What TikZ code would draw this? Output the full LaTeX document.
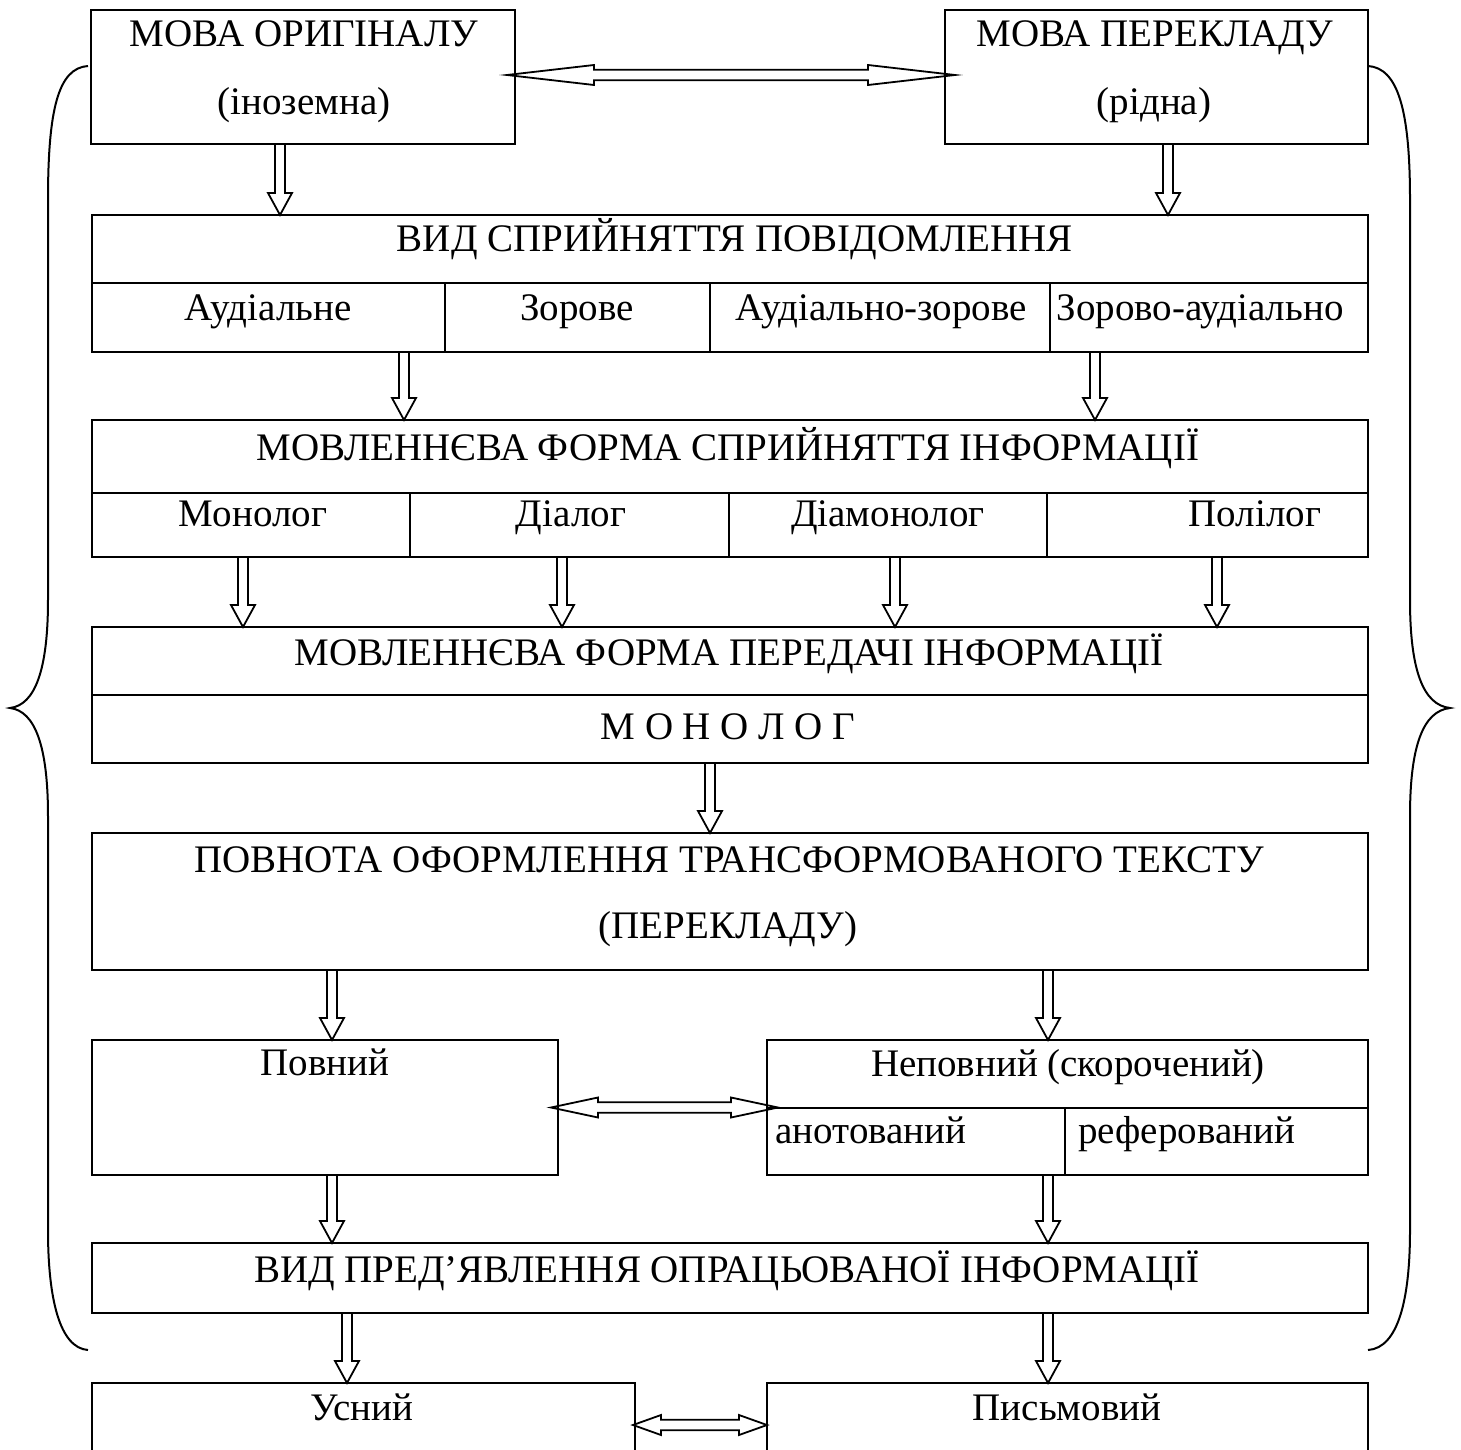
\documentclass[tikz,border=0pt]{standalone}
\usepackage{fontspec}
\setmainfont{Liberation Serif}
\usepackage{tikz}
\usetikzlibrary{calc}

\begin{document}
\begin{tikzpicture}[
    x=0.5pt, y=-0.5pt,
    box/.style={draw, line width=1.4pt, inner sep=0pt, outer sep=0pt},
    cell/.style={draw, line width=1pt, inner sep=0pt, outer sep=0pt},
    lbl/.style={anchor=base, inner sep=0pt, font=\fontsize{19.5}{23}\selectfont},
    brace/.style={line width=1pt},
    downarr/.style={draw, line width=0.9pt, to path={
        let \p1=(\tikztostart), \p2=(\tikztotarget) in
        (\x1-2.5pt,\y1) -- (\x1-2.5pt,\y2+11pt) -- (\x1-6pt,\y2+11pt) -- (\x1,\y2)
        -- (\x1+6pt,\y2+11pt) -- (\x1+2.5pt,\y2+11pt) -- (\x1+2.5pt,\y1)}},
    dblarr/.style={draw, line width=0.9pt, to path={
        let \p1=(\tikztostart), \p2=(\tikztotarget) in
        (\x1,\y1) -- (\x1+#1,\y1+5pt) -- (\x1+#1,\y1+2.6pt) -- (\x2-#1,\y1+2.6pt)
        -- (\x2-#1,\y1+5pt) -- (\x2,\y1) -- (\x2-#1,\y1-5pt) -- (\x2-#1,\y1-2.6pt)
        -- (\x1+#1,\y1-2.6pt) -- (\x1+#1,\y1-5pt) -- cycle}}
]
\useasboundingbox (0,0) rectangle (1461,1450);

\node[box, minimum width=212pt, minimum height=67pt] (b1) at (303,77) {};
\node[box, minimum width=211.5pt, minimum height=67pt] (b2) at (1156.5,77) {};
\node[lbl] (t1a) at (304,47) {МОВА ОРИГІНАЛУ};
\node[lbl] (t1b) at (304,115) {(іноземна)};
\node[lbl] (t2a) at (1155,47) {МОВА ПЕРЕКЛАДУ};
\node[lbl] (t2b) at (1154,115) {(рідна)};

\node[cell, minimum width=638pt, minimum height=34pt] (h3) at (730,249) {};
\node[cell, minimum width=176.5pt, minimum height=34.5pt] (c31) at (268.5,317.5) {};
\node[cell, minimum width=132.5pt, minimum height=34.5pt] (c32) at (577.5,317.5) {};
\node[cell, minimum width=170pt, minimum height=34.5pt] (c33) at (880,317.5) {};
\node[cell, minimum width=159pt, minimum height=34.5pt] (c34) at (1209,317.5) {};
\draw[line width=1.4pt] (h3.north west) rectangle (c34.south east);
\node[lbl] (t3) at (735,251) {ВИД СПРИЙНЯТТЯ ПОВІДОМЛЕННЯ};
\node[lbl] (t31) at (268,320) {Аудіальне};
\node[lbl] (t32) at (577,320) {Зорове};
\node[lbl] (t33) at (881,320) {Аудіально-зорове};
\node[lbl] (t34) at (1200,320) {Зорово-аудіально};

\node[cell, minimum width=638pt, minimum height=36.5pt] (h4) at (730,456.5) {};
\node[cell, minimum width=159pt, minimum height=32pt] (c41) at (251,525) {};
\node[cell, minimum width=159.5pt, minimum height=32pt] (c42) at (569.5,525) {};
\node[cell, minimum width=159pt, minimum height=32pt] (c43) at (888,525) {};
\node[cell, minimum width=160.5pt, minimum height=32pt] (c44) at (1207.5,525) {};
\draw[line width=1.4pt] (h4.north west) rectangle (c44.south east);
\node[lbl] (t4) at (728,460) {МОВЛЕННЄВА ФОРМА СПРИЙНЯТТЯ ІНФОРМАЦІЇ};
\node[lbl] (t41) at (253,526) {Монолог};
\node[lbl] (t42) at (571,526) {Діалог};
\node[lbl] (t43) at (888,526) {Діамонолог};
\node[lbl] (t44) at (1255,526) {Полілог};

\node[box, minimum width=638pt, minimum height=34pt] (h5) at (730,661) {};
\node[box, minimum width=638pt, minimum height=34pt] (c5) at (730,729) {};
\node[lbl] (t5) at (729,665) {МОВЛЕННЄВА ФОРМА ПЕРЕДАЧІ ІНФОРМАЦІЇ};
\node[lbl] (t5b) at (728,739) {М О Н О Л О Г};

\node[box, minimum width=638pt, minimum height=68.5pt] (b6) at (730,901.5) {};
\node[lbl] (t6a) at (729,872) {ПОВНОТА ОФОРМЛЕННЯ ТРАНСФОРМОВАНОГО ТЕКСТУ};
\node[lbl] (t6b) at (728,938) {(ПЕРЕКЛАДУ)};

\node[box, minimum width=233pt, minimum height=67.5pt] (b7) at (325,1107.5) {};
\node[lbl] (t7) at (325,1075) {Повний};
\node[cell, minimum width=300.5pt, minimum height=34pt] (h8) at (1067.5,1074) {};
\node[cell, minimum width=149pt, minimum height=33.5pt] (c81) at (916,1141.5) {};
\node[cell, minimum width=151.5pt, minimum height=33.5pt] (c82) at (1216.5,1141.5) {};
\draw[line width=1.4pt] (h8.north west) rectangle (c82.south east);
\node[lbl] (t8) at (1068,1076) {Неповний (скорочений)};
\node[lbl, anchor=base west] (t81) at (775,1143) {анотований};
\node[lbl, anchor=base west] (t82) at (1078,1143) {реферований};

\node[box, minimum width=638pt, minimum height=35pt] (b9) at (730,1278) {};
\node[lbl] (t9) at (727,1282) {ВИД ПРЕД’ЯВЛЕННЯ ОПРАЦЬОВАНОЇ ІНФОРМАЦІЇ};

\node[box, minimum width=271.5pt, minimum height=42pt] (b10) at (363.5,1425) {};
\node[box, minimum width=300.5pt, minimum height=42pt] (b11) at (1067.5,1425) {};
\node[lbl] (t10) at (362,1420) {Усний};
\node[lbl] (t11) at (1067,1420) {Письмовий};

\draw[dblarr=43.5pt] ([xshift=-4pt,yshift=1pt]b1.east) to ([xshift=5pt,yshift=1pt]b2.west);
\draw[dblarr=23.5pt] ([xshift=-3.5pt]b7.east) to ([xshift=5.5pt]b7.east -| h8.west);
\draw[dblarr=14pt] ([xshift=-1pt]b10.east) to (b11.west);

\draw[downarr] (b1.south -| 280,0) to (h3.north -| 280,0);
\draw[downarr] (b2.south -| 1168,0) to (h3.north -| 1168,0);
\draw[downarr] (c31.south -| 404,0) to (h4.north -| 404,0);
\draw[downarr] (c34.south -| 1095,0) to (h4.north -| 1095,0);
\draw[downarr] (c41.south -| 243,0) to (h5.north -| 243,0);
\draw[downarr] (c42.south -| 562,0) to (h5.north -| 562,0);
\draw[downarr] (c43.south -| 895,0) to (h5.north -| 895,0);
\draw[downarr] (c44.south -| 1217,0) to (h5.north -| 1217,0);
\draw[downarr] (c5.south -| 710,0) to (b6.north -| 710,0);
\draw[downarr] (b6.south -| 332,0) to (b7.north -| 332,0);
\draw[downarr] (b6.south -| 1048,0) to (h8.north -| 1048,0);
\draw[downarr] (b7.south -| 332,0) to (b9.north -| 332,0);
\draw[downarr] (c81.south -| 1048,0) to (b9.north -| 1048,0);
\draw[downarr] (b9.south -| 347,0) to (b10.north -| 347,0);
\draw[downarr] (b9.south -| 1048,0) to (b11.north -| 1048,0);

\draw[brace] (88,66) .. controls (58,68) and (48,110) .. (48,200) -- (48,600)
    .. controls (48,670) and (35,705) .. (10,708)
    .. controls (35,711) and (48,746) .. (48,816) -- (48,1230)
    .. controls (48,1300) and (60,1348) .. (88,1350);
\draw[brace] (1368,66) .. controls (1398,68) and (1410,110) .. (1410,200) -- (1410,600)
    .. controls (1410,670) and (1423,705) .. (1450,708)
    .. controls (1423,711) and (1410,746) .. (1410,816) -- (1410,1230)
    .. controls (1410,1300) and (1398,1348) .. (1368,1350);
\end{tikzpicture}
\end{document}
